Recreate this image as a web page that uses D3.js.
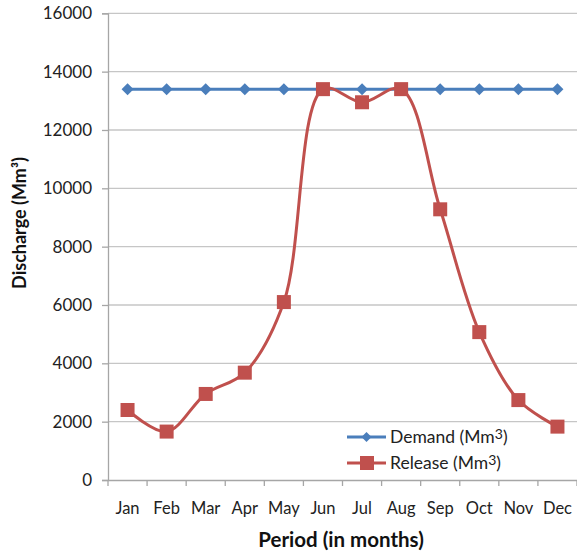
<!DOCTYPE html>
<html><head><meta charset="utf-8">
<script src="https://cdn.jsdelivr.net/npm/d3@7"></script>
<style>body{margin:0;background:#fff}svg{display:block}</style>
</head><body>
<svg id="c" width="577" height="554"></svg>
<script>
const months = ["Jan","Feb","Mar","Apr","May","Jun","Jul","Aug","Sep","Oct","Nov","Dec"];
const demand = [13400,13400,13400,13400,13400,13400,13400,13400,13400,13400,13400,13400];
const release = [2400,1660,2950,3680,6100,13400,12950,13400,9280,5070,2740,1830];
const yTicks = [0,2000,4000,6000,8000,10000,12000,14000,16000];

const svg = d3.select("#c");
const font = "Lato, 'Open Sans', sans-serif";
const L = 108, R = 577, T = 13.3, B = 480;
const x = d3.scaleBand().domain(months).range([L, R]);
const y = d3.scaleLinear().domain([0,16000]).range([B, T]);

// gridlines
svg.append("g").selectAll("line").data(yTicks.slice(1)).join("line")
  .attr("x1", L).attr("x2", R).attr("y1", d=>y(d)).attr("y2", d=>y(d))
  .attr("stroke", "#c6c6c6").attr("stroke-width", 1.3);

// y axis
const ya = svg.append("g").attr("transform", `translate(${L},0)`)
  .call(d3.axisLeft(y).tickValues(yTicks).tickSize(6).tickPadding(10).tickFormat(d3.format("d")));
ya.select(".domain").attr("stroke", "#a6a6a6").attr("stroke-width",1.3);
ya.selectAll(".tick line").attr("stroke", "#a6a6a6").attr("stroke-width",1.3);
ya.selectAll("text").attr("font-family", font).attr("font-size", 17).attr("fill", "#222");

// x axis
const xa = svg.append("g").attr("transform", `translate(0,${B})`)
  .call(d3.axisBottom(x).tickSize(0).tickPadding(22));
xa.select(".domain").attr("stroke", "#a6a6a6").attr("stroke-width",1.3);
xa.selectAll("text").attr("font-family", font).attr("font-size", 16.5).attr("fill", "#222");
svg.append("g").selectAll("line").data(d3.range(months.length+1)).join("line")
  .attr("x1", i=>L + i*x.step()).attr("x2", i=>L + i*x.step())
  .attr("y1", B).attr("y2", B+6).attr("stroke", "#a6a6a6").attr("stroke-width",1.3);

const cx = d => x(d) + x.bandwidth()/2;
const blue = "#4a7ebb", red = "#c0504d";

// demand line
svg.append("path").datum(demand)
  .attr("d", d3.line().x((d,i)=>cx(months[i])).y(d=>y(d)))
  .attr("fill","none").attr("stroke", blue).attr("stroke-width", 3);
svg.append("g").selectAll("path").data(demand).join("path")
  .attr("d", (d,i)=>{const px=cx(months[i]), py=y(d), s=6; return `M${px},${py-s}L${px+s},${py}L${px},${py+s}L${px-s},${py}Z`;})
  .attr("fill", blue);

// release line
svg.append("path").datum(release)
  .attr("d", d3.line().x((d,i)=>cx(months[i])).y(d=>y(d)).curve(d3.curveCatmullRom.alpha(0.5)))
  .attr("fill","none").attr("stroke", red).attr("stroke-width", 3);
svg.append("g").selectAll("rect").data(release).join("rect")
  .attr("x", (d,i)=>cx(months[i])-7).attr("y", d=>y(d)-7)
  .attr("width", 14).attr("height", 14).attr("fill", red);

// legend
const lg = svg.append("g");
const items = [["Demand", blue, "diamond"], ["Release", red, "square"]];
items.forEach((it, k) => {
  const yy = 437 + k*26;
  lg.append("line").attr("x1", 347).attr("x2", 386).attr("y1", yy).attr("y2", yy)
    .attr("stroke", it[1]).attr("stroke-width", 3);
  if (it[2]==="diamond") {
    lg.append("path").attr("d", `M366.5,${yy-5}L371.5,${yy}L366.5,${yy+5}L361.5,${yy}Z`).attr("fill", it[1]);
  } else {
    lg.append("rect").attr("x", 360).attr("y", yy-7).attr("width", 14).attr("height", 14).attr("fill", it[1]);
  }
  const t = lg.append("text").attr("x", 390).attr("y", yy+6)
    .attr("font-family", font).attr("font-size", 17.5).attr("fill", "#222");
  t.append("tspan").text(it[0] + " (Mm");
  t.append("tspan").attr("font-size", 14).attr("dy", -4).text("3");
  t.append("tspan").attr("dy", 4).text(")");
});

// axis titles
svg.append("text").attr("x", 341).attr("y", 547).attr("text-anchor","middle")
  .attr("font-family", font).attr("font-weight", "bold").attr("font-size", 20.5).attr("fill","#111")
  .text("Period (in months)");
svg.append("text").attr("transform", "translate(26,223) rotate(-90)").attr("text-anchor","middle")
  .attr("font-family", font).attr("font-weight", "bold").attr("font-size", 18).attr("fill","#111")
  .text("Discharge (Mm³)");
</script>
</body></html>
